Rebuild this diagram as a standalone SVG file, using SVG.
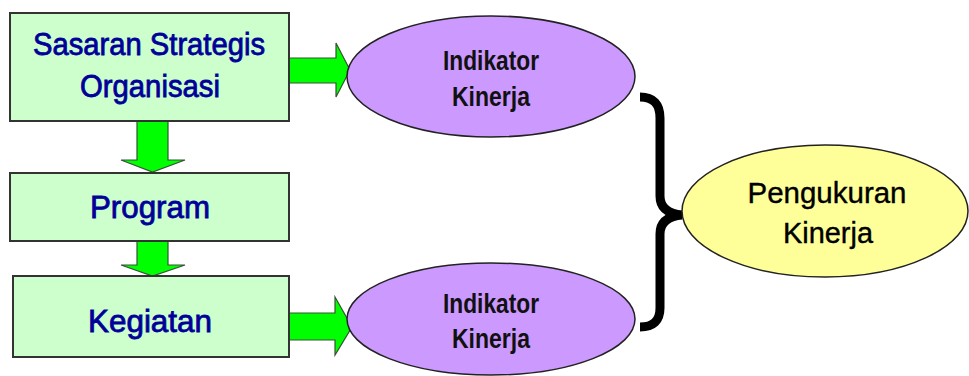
<svg xmlns="http://www.w3.org/2000/svg" width="969" height="376" viewBox="0 0 969 376">
  <style>
    .box { fill: #CCFFCC; stroke: #333333; stroke-width: 2; }
    .ind { fill: #CC99FF; stroke: #222222; stroke-width: 1.5; }
    .res { fill: #FFFF99; stroke: #222222; stroke-width: 1.5; }
    .arrow { fill: #00FF00; stroke: #335533; stroke-width: 1.2; stroke-linejoin: miter; }
    .brace { fill: none; stroke: #000000; stroke-width: 9; stroke-linecap: butt; }
    .lbl { font-family: "Liberation Sans", Arial, sans-serif; font-size: 31px; fill: #000099; stroke: #000099; stroke-width: 0.8; text-anchor: middle; }
    .ilbl { font-family: "Liberation Sans", Arial, sans-serif; font-size: 28px; font-weight: bold; fill: #111111; text-anchor: middle; }
    .plbl { font-family: "Liberation Sans", Arial, sans-serif; font-size: 30px; fill: #000000; stroke: #000000; stroke-width: 0.4; text-anchor: middle; }
  </style>

  <!-- block arrows and the brace -->
  <g id="connectors">
    <path class="arrow" d="M137,121 H168 V160 H185 L152.5,172 L121,160 H137 Z"/>
    <path class="arrow" d="M137,241 H168 V265 H185 L152.5,276 L121,265 H137 Z"/>
    <path class="arrow" d="M289,58 H336 V43 L350,70 L336,97 V83 H289 Z"/>
    <path class="arrow" d="M289,313 H335 V297 L352,327 L335,355 V340 H289 Z"/>
    <path class="brace" d="M640,97 Q660,97 660,118 L660,196 Q660,213 682,215 Q660,217 660,234 L660,308 Q660,327 640,327"/>
  </g>

  <g id="sasaran">
    <rect class="box" x="10" y="13" width="279" height="108"/>
    <text class="lbl" x="149" y="55" textLength="232" lengthAdjust="spacingAndGlyphs">Sasaran Strategis</text>
    <text class="lbl" x="150" y="97" textLength="140" lengthAdjust="spacingAndGlyphs">Organisasi</text>
  </g>

  <g id="program">
    <rect class="box" x="10" y="173" width="279" height="68"/>
    <text class="lbl" x="150" y="218" textLength="120" lengthAdjust="spacingAndGlyphs">Program</text>
  </g>

  <g id="kegiatan">
    <rect class="box" x="13" y="276" width="276" height="81"/>
    <text class="lbl" x="150" y="332" textLength="124" lengthAdjust="spacingAndGlyphs">Kegiatan</text>
  </g>

  <g id="indikator-atas">
    <ellipse class="ind" cx="491" cy="76.5" rx="144" ry="60.5"/>
    <text class="ilbl" x="491" y="70" textLength="96" lengthAdjust="spacingAndGlyphs">Indikator</text>
    <text class="ilbl" x="491" y="106" textLength="78" lengthAdjust="spacingAndGlyphs">Kinerja</text>
  </g>

  <g id="indikator-bawah">
    <ellipse class="ind" cx="491" cy="319" rx="144" ry="56"/>
    <text class="ilbl" x="491" y="313" textLength="96" lengthAdjust="spacingAndGlyphs">Indikator</text>
    <text class="ilbl" x="491" y="348" textLength="78" lengthAdjust="spacingAndGlyphs">Kinerja</text>
  </g>

  <g id="pengukuran">
    <ellipse class="res" cx="825" cy="211" rx="143" ry="66"/>
    <text class="plbl" x="827" y="203" textLength="159" lengthAdjust="spacingAndGlyphs">Pengukuran</text>
    <text class="plbl" x="828" y="243" textLength="90" lengthAdjust="spacingAndGlyphs">Kinerja</text>
  </g>
</svg>
